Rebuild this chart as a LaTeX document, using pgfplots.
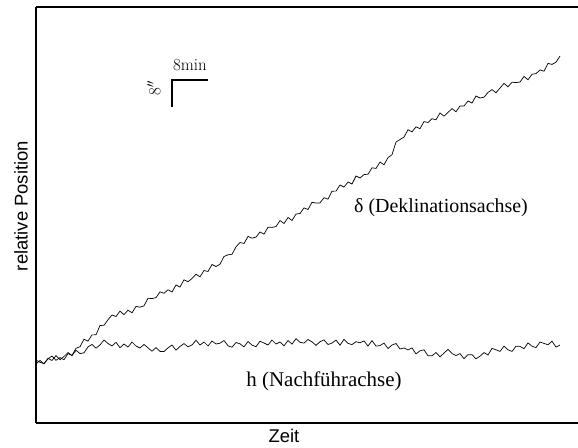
\documentclass[border=0pt]{standalone}
\usepackage{fontspec}
\usepackage{pgfplots}
\pgfplotsset{compat=1.18}
\newfontfamily\labelsans{Liberation Sans}
\newfontfamily\annserif{Liberation Serif}
\begin{document}
\begin{tikzpicture}
\begin{axis}[
  scale only axis, width=542bp, height=416bp,
  at={(36bp,25bp)}, anchor=south west,
  xmin=36, xmax=578, ymin=7, ymax=423, y dir=reverse,
  axis x line*=box, axis y line*=left,
  xtick=\empty, ytick=\empty,
  axis line style={line width=1.7pt, -},
  every outer x axis line/.append style={-},
  every outer y axis line/.append style={-},
  clip=false,
]
% delta (Deklinationsachse)
\addplot[black, line width=0.7pt] coordinates {
(36,364) (40,360.4) (44,363.9) (48,358.3) (52,360.5) (56,355.6) (60,359.7) (64,356.5)
(68,352.5) (72,355.5) (76,348.3) (80,346.7) (84,339.2) (88,341.1) (92,334.9) (96,334.8)
(100,325.5) (104,325.3) (108,319.7) (112,315) (116,316.5) (120,311.1) (124,314.6) (128,310.2)
(132,312.8) (136,306.4) (140,307.2) (144,305.8) (148,298.3) (152,298.5) (156,297.7) (160,291.8)
(164,293.3) (168,289.8) (172,292) (176,285) (180,287) (184,279.8) (188,281.7) (192,278.5)
(196,274.2) (200,276.8) (204,270.5) (208,271.5) (212,264.5) (216,266.5) (220,264.2) (224,256.5)
(228,254.8) (232,254.3) (236,246.9) (240,242.5) (244,243.5) (248,236.4) (252,238.2) (256,237.1)
(260,232) (264,234.1) (268,227.2) (272,227.4) (276,226.5) (280,220.5) (284,223.5) (288,217.5)
(292,220.5) (296,214.1) (300,213.5) (304,207.9) (308,209.5) (312,202.3) (316,203.1) (320,202.9)
(324,197.7) (328,199.2) (332,191.2) (336,191.1) (340,185) (344,187) (348,182) (352,184)
(356,176) (360,178) (364,174.6) (368,174.2) (372,167.8) (376,168.4) (380,162) (384,164.8)
(388,157.6) (392,154.7) (396,142.1) (400,139.5) (404,137.1) (408,129.7) (412,131.9) (416,126.8)
(420,128.7) (424,121.6) (428,122.5) (432,118.7) (436,119.8) (440,113) (444,116.2) (448,112.4)
(452,108.6) (456,111.8) (460,106) (464,106) (468,101) (472,103) (476,96) (480,98)
(484,97.2) (488,92.4) (492,89.6) (496,92.8) (500,88) (504,83.4) (508,86.8) (512,82.2)
(516,82.6) (520,82) (524,76.4) (528,79.8) (532,74.2) (536,73.6) (540,70) (544,71.2)
(548,63.4) (552,64.4) (556,62.2) (560,56)
};
% h (Nachfuehrachse)
\addplot[black, line width=0.7pt] coordinates {
(36,360) (40,362.3) (44,363.5) (48,358.8) (52,356) (56,360.3) (60,357.6) (64,359.7)
(68,353.6) (72,355.4) (76,350.3) (80,353.6) (84,352.8) (88,346.9) (92,344.4) (96,348.2)
(100,344.9) (104,340.1) (108,343.5) (112,345.9) (116,342.3) (120,347.7) (124,344) (128,347)
(132,342) (136,346) (140,348) (144,344.4) (148,347.8) (152,351.2) (156,347.6) (160,351.4)
(164,351.6) (168,347.8) (172,345) (176,350.2) (180,346.4) (184,343.6) (188,346.8) (192,345)
(196,340.2) (200,345) (204,342) (208,346) (212,341) (216,344) (220,343.2) (224,340.5)
(228,345.8) (232,347.2) (236,342.5) (240,343.8) (244,346.9) (248,341.5) (252,345.1) (256,346.7)
(260,341.3) (264,343) (268,345) (272,340) (276,344) (280,342) (284,345.9) (288,340.5)
(292,344.1) (296,338.7) (300,342.3) (304,343.1) (308,339.5) (312,341.9) (316,345.3) (320,341.7)
(324,339.9) (328,344.5) (332,343.1) (336,340.1) (340,345.2) (344,339.3) (348,343.4) (352,344.6)
(356,341.7) (360,342.8) (364,340.9) (368,346.1) (372,340.6) (376,346.1) (380,345.6) (384,343.1)
(388,348.5) (392,345) (396,343.5) (400,349) (404,348) (408,349.9) (412,347.9) (416,353.9)
(420,350.8) (424,349.8) (428,355.8) (432,355.8) (436,352.5) (440,356.8) (444,353.1) (448,349.4)
(452,353.5) (456,355.6) (460,353.6) (464,358.7) (468,354.7) (472,354.7) (476,358.8) (480,356.2)
(484,352.6) (488,355) (492,348.4) (496,349.8) (500,351.4) (504,346.1) (508,349.8) (512,351.4)
(516,346.1) (520,346.4) (524,348.7) (528,342.9) (532,346.2) (536,347.6) (540,342) (544,343.4)
(548,344.8) (552,341.2) (556,347.1) (560,345)
};
% annotations
\node[font=\annserif\fontsize{20}{24}\selectfont] at (axis cs:441,208) {δ (Deklinationsachse)};
\node[font=\annserif\fontsize{21}{25}\selectfont] at (axis cs:324,381) {h (Nachführachse)};
\draw[line width=1.6pt] (axis cs:172,107) -- (axis cs:172,80) -- (axis cs:208,80);
\node[font=\fontsize{17}{20}\selectfont] at (axis cs:190,65) {8min};
\node[font=\fontsize{17}{20}\selectfont, rotate=90] at (axis cs:154,88) {8$''$};
% axis labels
\node[font=\labelsans\fontsize{18.5}{22}\selectfont] at (axis cs:284,436) {Zeit};
\node[font=\labelsans\fontsize{18.5}{22}\selectfont, rotate=90] at (axis cs:21,206) {relative Position};
\end{axis}
\pgfresetboundingbox
\useasboundingbox (0,0) rectangle (578bp,448bp);
\end{tikzpicture}
\end{document}
